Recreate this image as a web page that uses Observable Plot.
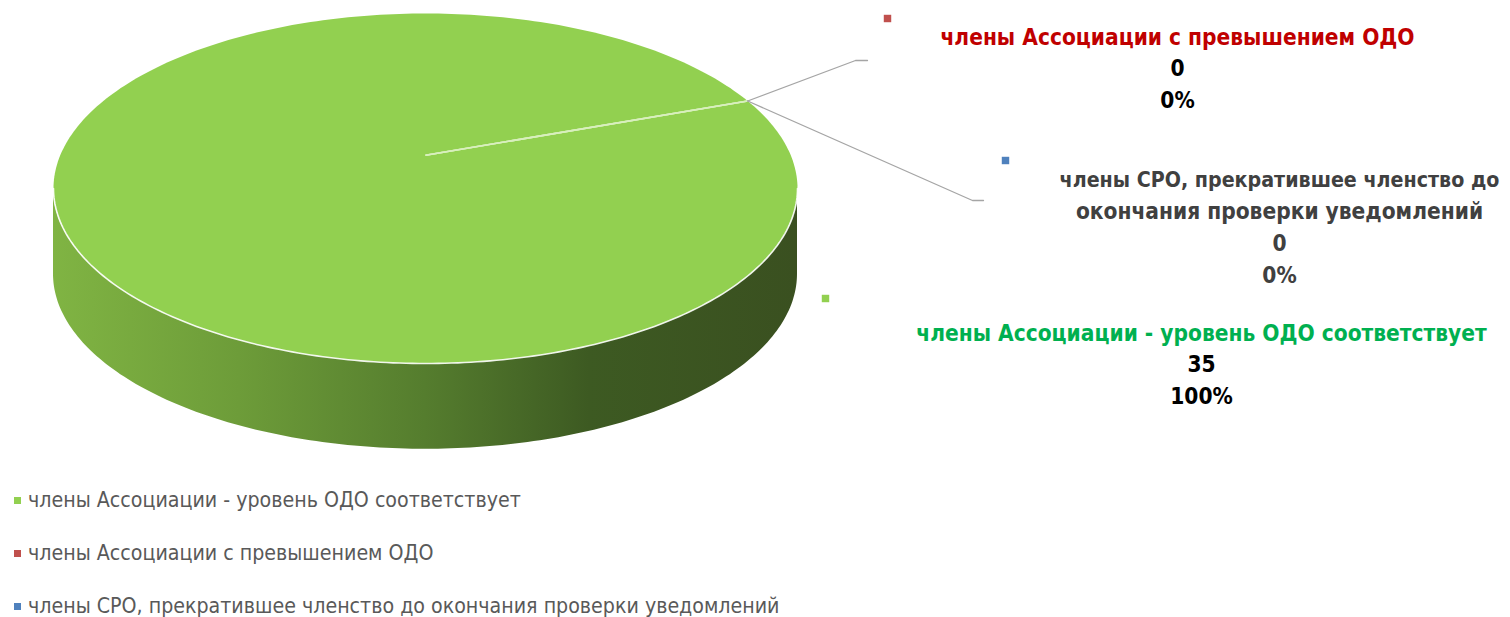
<!DOCTYPE html>
<html><head><meta charset="utf-8">
<script src="https://cdn.jsdelivr.net/npm/d3@7"></script>
<script src="https://cdn.jsdelivr.net/npm/@observablehq/plot@0.6"></script>
<style>
body{margin:0;background:#fff;}
#wrap{width:1510px;height:617px;position:relative;overflow:hidden;}
.legend{position:absolute;left:0;top:470px;width:1510px;font-family:"Liberation Sans Narrow","DejaVu Sans Condensed",sans-serif;font-size:21.2px;color:#595959;}
.legend .item{position:absolute;left:14px;height:24px;line-height:24px;white-space:nowrap;}
.legend .sw{display:inline-block;width:7px;height:7px;margin-right:7px;vertical-align:middle;position:relative;top:-1px;}
</style></head>
<body><div id="wrap"></div>
<script>
// ---- data ----
const categories = [
  "члены Ассоциации - уровень ОДО соответствует",
  "члены Ассоциации с превышением ОДО",
  "члены СРО, прекратившее членство до окончания проверки уведомлений"
];
const labelLines = [
  ["члены Ассоциации - уровень ОДО соответствует"],
  ["члены Ассоциации с превышением ОДО"],
  ["члены СРО, прекратившее членство до", "окончания проверки уведомлений"]
];
const values = [35, 0, 0];
const percents = ["100%", "0%", "0%"];

// ---- styles / layout ----
const sliceColors = ["#92d050", "#c0504d", "#4f81bd"];
const nameColors = ["#00b050", "#c00000", "#404040"];
const numColors = ["#000000", "#000000", "#404040"];
const startAngle = Math.PI / 3;           // first slice angle (clockwise from 12 o'clock)
const depth = 0.49;                       // side height in radius units
const centerShift = 0.19;                 // perspective shift of the apparent centre
const labelFont = "'Liberation Sans Narrow','DejaVu Sans Condensed',sans-serif";
const baseSize = 22.5;
// label layout in pixels: centre x, first line y, marker x,y, leader elbow (x,y,endX), max line width
const labelLayout = [
  {cx: 1201, y0: 333, mx: 825, my: 298, leader: null, maxW: 600},
  {cx: 1177, y0: 37, mx: 887, my: 18, leader: [855, 60, 867], maxW: 600},
  {cx: 1279, y0: 180, mx: 1005, my: 160, leader: [972, 200, 983], maxW: 440}
];
const lineStep = 31.6;
const W = 1510, H = 470;
const X0 = 53, X1 = 797, Y0 = 363, Y1 = 13;
const pxX = px => (px - (X0 + X1) / 2) / ((X1 - X0) / 2);
const pxY = py => ((Y0 + Y1) / 2 - py) / ((Y0 - Y1) / 2);

const ctx = document.createElement("canvas").getContext("2d");
const fitSize = (t, maxW) => {
  ctx.font = `bold ${baseSize}px ${labelFont}`;
  const w = ctx.measureText(t).width;
  return w > maxW ? baseSize * maxW / w : baseSize;
};

const arcs = d3.pie().sort(null).startAngle(startAngle).endAngle(startAngle + 2 * Math.PI)(values);
const pt = a => [Math.sin(a), Math.cos(a)];

// top face polygons
const topPts = [];
arcs.forEach((a, i) => {
  const n = Math.max(2, Math.ceil((a.endAngle - a.startAngle) / (Math.PI / 180)));
  if (a.endAngle - a.startAngle < 2 * Math.PI - 1e-6) topPts.push({cat: categories[i], x: 0, y: 0});
  for (let k = 0; k <= n; k++) {
    const [x, y] = pt(a.startAngle + (a.endAngle - a.startAngle) * k / n);
    topPts.push({cat: categories[i], x, y});
  }
});
// front side (visible half)
const side = d3.range(0, 181).map(k => {
  const a = Math.PI / 2 + k * Math.PI / 180;
  const [x, y] = pt(a);
  return {x, y1: y, y2: y - depth};
});
const frontEdge = side.map(d => ({x: d.x, y: d.y1}));
// slice boundaries
const bounds = arcs.map((a, i) => {
  const [x, y] = pt(a.startAngle);
  return {x1: 0, y1: centerShift, x2: x, y2: y, cat: categories[i]};
});
// leader lines
const leaders = [];
arcs.forEach((a, i) => {
  const L = labelLayout[i].leader;
  if (!L) return;
  const [ex, ey] = pt((a.startAngle + a.endAngle) / 2);
  leaders.push({id: i, x: ex, y: ey});
  leaders.push({id: i, x: pxX(L[0]), y: pxY(L[1])});
  leaders.push({id: i, x: pxX(L[2]), y: pxY(L[1])});
});
// labels
const labelRows = [];
const markers = [];
categories.forEach((c, i) => {
  const L = labelLayout[i];
  const lines = [...labelLines[i].map(t => ({t, fill: nameColors[i]})),
                 {t: String(values[i]), fill: numColors[i]},
                 {t: percents[i], fill: numColors[i]}];
  lines.forEach((l, j) => labelRows.push({x: pxX(L.cx), y: pxY(L.y0 + j * lineStep), text: l.t, fill: l.fill,
    size: fitSize(l.t, L.maxW)}));
  markers.push({x: pxX(L.mx), y: pxY(L.my), fill: sliceColors[i]});
});

const plot = Plot.plot({
  width: W, height: H, margin: 0,
  x: {domain: [-1, 1], range: [X0, X1], axis: null},
  y: {domain: [-1, 1], range: [Y0, Y1], axis: null},
  style: {background: "white"},
  marks: [
    Plot.areaY(side, {x: "x", y1: "y1", y2: "y2", fill: "url(#sideGrad)"}),
    Plot.line(topPts, {x: "x", y: "y", z: "cat", curve: "linear-closed", stroke: "none",
      fill: d => sliceColors[categories.indexOf(d.cat)]}),
    Plot.line(frontEdge, {x: "x", y: "y", stroke: "#ffffff", strokeWidth: 1.6, strokeOpacity: 0.9}),
    Plot.link(bounds, {x1: "x1", y1: "y1", x2: "x2", y2: "y2", stroke: "#d8efbd", strokeWidth: 1.6}),
    Plot.line(leaders, {x: "x", y: "y", z: "id", stroke: "#a5a5a5", strokeWidth: 1.3}),
    Plot.dot(markers, {x: "x", y: "y", symbol: "square", r: 4.2, fill: d => d.fill, stroke: "none"}),
    Plot.text(labelRows, {x: "x", y: "y", text: "text", fill: d => d.fill, fontWeight: "bold",
      fontSize: d => d.size, fontFamily: labelFont})
  ]
});
const svg = d3.select(plot);
const defs = svg.insert("defs", ":first-child");
const g = defs.append("linearGradient").attr("id", "sideGrad").attr("x1", 0).attr("x2", 1).attr("y1", 0).attr("y2", 0);
[[0, "#80b443"], [0.25, "#6d9c39"], [0.5, "#557d2e"], [0.72, "#3d5a22"], [1, "#3a5020"]]
  .forEach(([o, c]) => g.append("stop").attr("offset", o).attr("stop-color", c));
const wrap = document.getElementById("wrap");
wrap.appendChild(plot);

const legend = document.createElement("div");
legend.className = "legend";
categories.forEach((c, i) => {
  const it = document.createElement("div");
  it.className = "item";
  it.style.top = (30 + i * 53 - 12) + "px";
  it.innerHTML = `<span class="sw" style="background:${sliceColors[i]}"></span>${c}`;
  legend.appendChild(it);
});
wrap.appendChild(legend);
</script></body></html>
